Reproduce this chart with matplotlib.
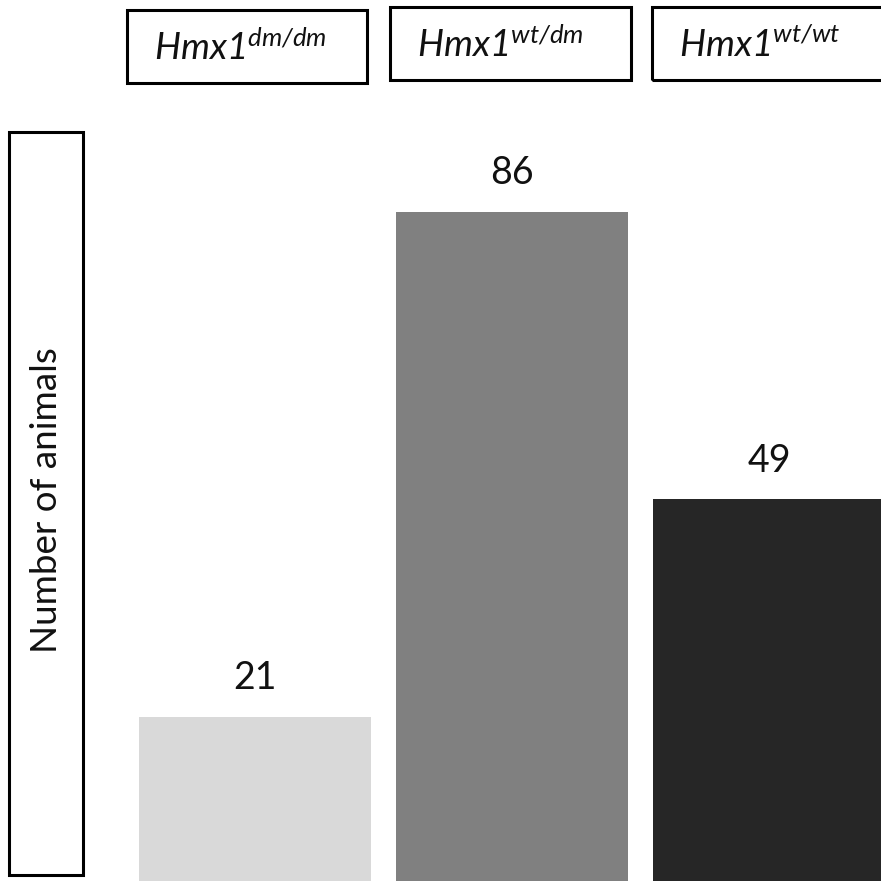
import matplotlib
matplotlib.use('Agg')
from matplotlib import pyplot as plt
from matplotlib.patches import Rectangle

genotypes = ['dm/dm', 'wt/dm', 'wt/wt']
counts = [21, 86, 49]
bar_colors = ['#d9d9d9', '#808080', '#262626']
ylabel = 'Number of animals'

plt.rcParams['font.family'] = ['Lato', 'DejaVu Sans']
plt.rcParams['mathtext.fontset'] = 'custom'
plt.rcParams['mathtext.it'] = 'Lato:italic'
plt.rcParams['mathtext.rm'] = 'Lato:italic'
plt.rcParams['mathtext.default'] = 'it'

W = H = 881
fig = plt.figure(figsize=(8.81, 8.81), dpi=100)
ax = fig.add_axes([0, 0, 1, 1])

# bar centres at 255 px, 257 px apart, baseline ~881.5 px, 7.785 px per animal
xs = list(range(len(counts)))
ax.bar(xs, counts, width=0.9, color=bar_colors, linewidth=0)
ax.set_xlim(-255 / 257, (W - 255) / 257)
ax.set_ylim(-0.06, 881.5 / 7.785)
ax.axis('off')

for x, c in zip(xs, counts):
    ax.annotate(str(c), (x, c), xytext=(0, 20), textcoords='offset points',
                ha='center', va='baseline', fontsize=27, color='#111111')


def px_rect(x0, y0, x1, y1):
    # rectangle given in pixels from the top-left corner
    return Rectangle((x0 / W, 1 - y1 / H), (x1 - x0) / W, (y1 - y0) / H,
                     transform=fig.transFigure, fill=False, edgecolor='black',
                     linewidth=2.2, clip_on=False)


# genotype boxes on top
boxes = [(127, 10, 367, 83), (390, 7, 631, 80), (652, 7, 895, 80)]
for (x0, y0, x1, y1), g in zip(boxes, genotypes):
    fig.patches.append(px_rect(x0, y0, x1, y1))
    fig.text((x0 + 27) / W, 1 - (y1 - 23) / H,
             r'$Hmx1^{' + g + '}$',
             ha='left', va='baseline', fontsize=26.5, color='#111111')

# y label box
fig.patches.append(px_rect(9, 132, 83, 875))
fig.text(47 / W, 1 - 500 / H, ylabel, rotation=90, ha='center', va='center',
         fontsize=26.5, color='#111111')

fig.savefig('out.png', dpi=100)
